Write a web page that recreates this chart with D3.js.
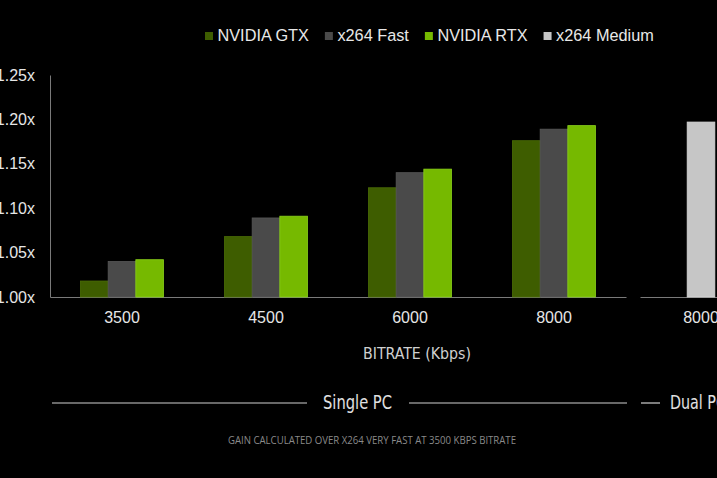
<!DOCTYPE html>
<html>
<head>
<meta charset="utf-8">
<script src="https://cdn.jsdelivr.net/npm/d3@7"></script>
<style>
  body { margin: 0; background: #000; }
  svg { display: block; background: #000; }
</style>
</head>
<body>
<svg id="chart"></svg>
<script>
// data
var bitrates = ["3500", "4500", "6000", "8000"];
var seriesNames = ["NVIDIA GTX", "x264 Fast", "NVIDIA RTX"];
var gtx = [1.018, 1.068, 1.123, 1.176];
var x264Fast = [1.040, 1.089, 1.140, 1.189];
var rtx = [1.042, 1.091, 1.144, 1.193];
var dualBitrates = ["8000"];
var x264Medium = [1.197];
var legendNames = ["NVIDIA GTX", "x264 Fast", "NVIDIA RTX", "x264 Medium"];
var yTicks = [1.00, 1.05, 1.10, 1.15, 1.20, 1.25];

var W = 717, H = 478;
var svg = d3.select("#chart").attr("width", W).attr("height", H);

var fill = d3.scaleOrdinal().domain(legendNames)
    .range(["#3e5d00", "#4a4a4a", "#76b900", "#c6c6c6"]);
var edge = d3.scaleOrdinal().domain(legendNames)
    .range(["#4b6e06", "#585858", "#8bd11a", "#d6d6d6"]);

var baseY = 297, topY = 75;
var yScale = d3.scaleLinear().domain([1.00, 1.25]).range([baseY, topY]);

var pad = 0.4236;
var xScale = d3.scaleBand().domain(bitrates).range([50, 626])
    .paddingInner(pad).paddingOuter(pad / 2);
var subScale = d3.scaleBand().domain(seriesNames).range([0, xScale.bandwidth()]);
var xDual = d3.scaleBand().domain(dualBitrates).range([640, 762])
    .paddingInner(pad).paddingOuter(0.1355);

var rows = [];
bitrates.forEach(function(b, i) {
    rows.push({cat: b, s: "NVIDIA GTX", v: gtx[i]});
    rows.push({cat: b, s: "x264 Fast", v: x264Fast[i]});
    rows.push({cat: b, s: "NVIDIA RTX", v: rtx[i]});
});

// y axis
var yAxis = svg.append("g")
    .attr("transform", "translate(50,0)")
    .call(d3.axisLeft(yScale).tickValues(yTicks).tickSize(0).tickSizeOuter(0).tickPadding(15)
        .tickFormat(function(d) { return d3.format(".2f")(d) + "x"; }));
yAxis.select(".domain").attr("stroke", "#7a7a7a");
yAxis.selectAll("text").attr("fill", "#e6e6e6")
    .style("font-family", "'Liberation Sans', Arial, sans-serif").style("font-size", "16px");

// x axes
function styleX(g) {
    g.select(".domain").attr("stroke", "#7a7a7a");
    g.selectAll("text").attr("fill", "#e6e6e6")
        .style("font-family", "'Liberation Sans', Arial, sans-serif").style("font-size", "16px");
}
svg.append("g")
    .attr("transform", "translate(0," + baseY + ")")
    .call(d3.axisBottom(xScale).tickSize(0).tickSizeOuter(0).tickPadding(15))
    .call(styleX);
svg.append("g")
    .attr("transform", "translate(0," + baseY + ")")
    .call(d3.axisBottom(xDual).tickSize(0).tickSizeOuter(0).tickPadding(15))
    .call(styleX);

// bars
svg.append("g").selectAll("rect")
    .data(rows)
    .enter().append("rect")
    .attr("x", function(d) { return xScale(d.cat) + subScale(d.s); })
    .attr("y", function(d) { return yScale(d.v); })
    .attr("width", subScale.bandwidth())
    .attr("height", function(d) { return baseY - yScale(d.v); })
    .attr("fill", function(d) { return fill(d.s); })
    .attr("stroke", function(d) { return edge(d.s); })
    .attr("stroke-width", 0.8);

svg.append("g").selectAll("rect")
    .data(dualBitrates)
    .enter().append("rect")
    .attr("x", function(d) { return xDual(d) + (xDual.bandwidth() - subScale.bandwidth()) / 2; })
    .attr("y", function(d, i) { return yScale(x264Medium[i]); })
    .attr("width", subScale.bandwidth())
    .attr("height", function(d, i) { return baseY - yScale(x264Medium[i]); })
    .attr("fill", fill("x264 Medium"))
    .attr("stroke", edge("x264 Medium"))
    .attr("stroke-width", 0.8);

// axis title
var narrow = "'Liberation Sans Narrow', 'DejaVu Sans Condensed', 'DejaVu Sans', sans-serif";
svg.append("text")
    .attr("x", 363).attr("y", 359)
    .attr("textLength", 108).attr("lengthAdjust", "spacingAndGlyphs")
    .attr("fill", "#d0d0d0")
    .style("font-family", narrow).style("font-size", "16px")
    .text("BITRATE (Kbps)");

// section brackets
var lineY = 403;
var lines = svg.append("g").attr("stroke", "#cfcfcf").attr("stroke-width", 1.2);
lines.append("line").attr("x1", 52).attr("x2", 307).attr("y1", lineY).attr("y2", lineY);
lines.append("line").attr("x1", 409).attr("x2", 627).attr("y1", lineY).attr("y2", lineY);
lines.append("line").attr("x1", 641).attr("x2", 660).attr("y1", lineY).attr("y2", lineY);

svg.append("text")
    .attr("x", 323).attr("y", 409)
    .attr("textLength", 69).attr("lengthAdjust", "spacingAndGlyphs")
    .attr("fill", "#e0e0e0")
    .style("font-family", narrow).style("font-size", "19px")
    .text("Single PC");
svg.append("text")
    .attr("x", 670).attr("y", 409)
    .attr("textLength", 56).attr("lengthAdjust", "spacingAndGlyphs")
    .attr("fill", "#e0e0e0")
    .style("font-family", narrow).style("font-size", "19px")
    .text("Dual PC");

// footnote
svg.append("text")
    .attr("x", 228).attr("y", 444)
    .attr("textLength", 288).attr("lengthAdjust", "spacingAndGlyphs")
    .attr("fill", "#8a8a8a")
    .style("font-family", "'Open Sans', sans-serif").style("font-size", "10px")
    .text("GAIN CALCULATED OVER X264 VERY FAST AT 3500 KBPS BITRATE");

// legend
var legend = svg.append("g");
var lx = 205;
legendNames.forEach(function(name) {
    legend.append("rect")
        .attr("x", lx).attr("y", 32).attr("width", 8).attr("height", 8)
        .attr("fill", fill(name));
    var t = legend.append("text")
        .attr("x", lx + 12.5).attr("y", 41)
        .attr("fill", "#e8e8e8")
        .style("font-family", "'Liberation Sans', Arial, sans-serif").style("font-size", "16.3px")
        .text(name);
    lx = lx + 12.5 + t.node().getComputedTextLength() + 16;
});
</script>
</body>
</html>
